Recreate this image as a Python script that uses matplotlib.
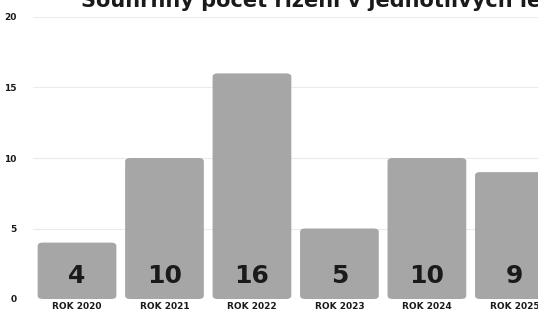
import matplotlib
matplotlib.use("Agg")
import matplotlib.pyplot as plt
from matplotlib.patches import FancyBboxPatch

years = ["ROK 2020", "ROK 2021", "ROK 2022", "ROK 2023", "ROK 2024", "ROK 2025"]
counts = [4, 10, 16, 5, 10, 9]
yticks = [0, 5, 10, 15, 20]
TITLE = "Souhrnný počet řízení v jednotlivých letech"

plt.rcParams["font.family"] = ["DejaVu Sans"]

W, H = 538, 313
fig = plt.figure(figsize=(W / 100, H / 100), dpi=100)
ax = fig.add_axes([33 / W, 1 - 299 / H, (W - 33) / W, (299 - 17) / H])

x = list(range(len(years)))
bars = ax.bar(x, counts, width=0.9, color="#a6a6a6", zorder=2)
# swap plain bars for slightly rounded ones
for b in bars:
    b.set_visible(False)
    ax.add_patch(FancyBboxPatch((b.get_x(), 0), b.get_width(), b.get_height(),
                                boxstyle="round,pad=0,rounding_size=0.06",
                                mutation_aspect=4.0, fc="#a6a6a6", ec="none",
                                zorder=2))
for xi, v in zip(x, counts):
    ax.text(xi, 1.65, str(v), ha="center", va="center", fontsize=18,
            fontweight="bold", color="#1a1a1a", zorder=3)

ax.set_xlim(-0.503, 5.27)
ax.set_ylim(0, 20)
ax.set_yticks(yticks)
ax.set_xticks(x)
ax.set_xticklabels(years)
ax.tick_params(axis="both", length=0, labelsize=6.5, colors="#1a1a1a")
ax.tick_params(axis="y", pad=12)
ax.tick_params(axis="x", pad=2)
for lab in ax.get_xticklabels() + ax.get_yticklabels():
    lab.set_fontweight("bold")
ax.grid(axis="y", color="#ebebeb", lw=0.8, zorder=0)
for s in ax.spines.values():
    s.set_visible(False)

fig.text(0.15, 1 - 7 / H, TITLE, ha="left", va="baseline", fontsize=15,
         fontweight="bold", color="#1a1a1a")

fig.savefig("out.png", dpi=100)
